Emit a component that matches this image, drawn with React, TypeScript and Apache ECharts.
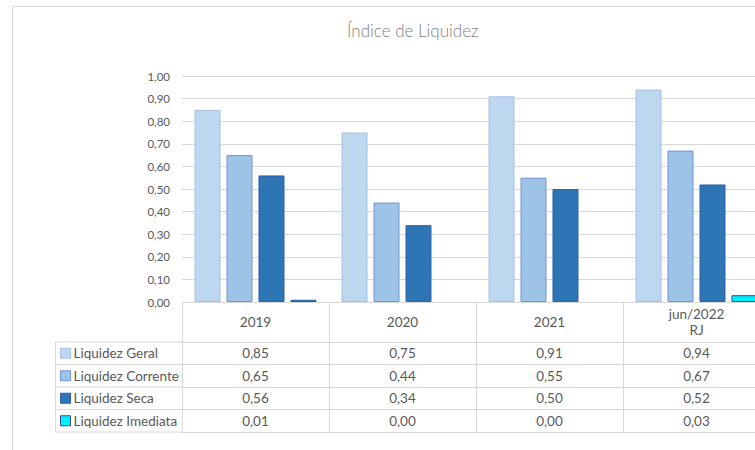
import React, { useEffect, useRef } from "react";
import * as echarts from "echarts";

const categories = ["2019", "2020", "2021", "jun/2022\nRJ"];
const seriesNames = ["Liquidez Geral", "Liquidez Corrente", "Liquidez Seca", "Liquidez Imediata"];
const liquidezGeral = [0.85, 0.75, 0.91, 0.94];
const liquidezCorrente = [0.65, 0.44, 0.55, 0.67];
const liquidezSeca = [0.56, 0.34, 0.5, 0.52];
const liquidezImediata = [0.01, 0.0, 0.0, 0.03];
const yTicks = [0, 1, 0.1];

const seriesValues = [liquidezGeral, liquidezCorrente, liquidezSeca, liquidezImediata];
const fills = ["#BDD7EE", "#9DC3E6", "#2E75B6", "#00F0FF"];
const borders = ["#A9BEE6", "#7393D6", "#2F5FA8", "#2F4F9A"];

const fmt = (v: number) => v.toFixed(2).replace(".", ",");

export default function App() {
  const ref = useRef<HTMLDivElement>(null);
  useEffect(() => {
    if (!ref.current) return;
    const chart = echarts.init(ref.current, null, { renderer: "svg" });
    const font = "Lato, 'Open Sans', sans-serif";
    const gridTop = 76;
    const gridBottomY = 302;
    const rowTop0 = 342;
    const rowH = 22.5;
    const lineColor = "#D9D9D9";
    const textColor = "#595959";
    const tableFont = 13.5;

    const valueAxes = seriesValues.map((vals, i) => ({
      type: "category",
      gridIndex: 0,
      position: "bottom",
      offset: rowTop0 + rowH * i - gridBottomY,
      data: categories,
      axisLine: { show: true, lineStyle: { color: lineColor, width: 1 } },
      axisTick: { show: false },
      axisLabel: {
        show: true,
        interval: 0,
        margin: rowH / 2,
        verticalAlign: "middle",
        color: textColor,
        fontSize: tableFont,
        fontFamily: font,
        formatter: (_v: string, idx: number) => fmt(vals[idx]),
      },
      splitLine: { show: false },
    }));

    const closingAxis = {
      type: "category",
      gridIndex: 0,
      position: "bottom",
      offset: rowTop0 + rowH * 4 - gridBottomY,
      data: categories,
      axisLine: { show: true, lineStyle: { color: lineColor, width: 1 } },
      axisTick: { show: false },
      axisLabel: { show: false },
      splitLine: { show: false },
    };

    const legendLines: any[] = [];
    for (let i = 0; i <= 4; i++) {
      legendLines.push({
        type: "line",
        shape: { x1: 55, y1: rowTop0 + rowH * i, x2: 182, y2: rowTop0 + rowH * i },
        style: { stroke: lineColor, lineWidth: 1 },
        silent: true,
      });
    }
    legendLines.push({
      type: "line",
      shape: { x1: 55.5, y1: rowTop0, x2: 55.5, y2: rowTop0 + rowH * 4 },
      style: { stroke: lineColor, lineWidth: 1 },
      silent: true,
    });

    chart.setOption({
      animation: false,
      backgroundColor: "#FFFFFF",
      title: {
        text: "Índice de Liquidez",
        left: 342,
        top: 17,
        textStyle: { color: "#7F7F7F", fontSize: 17, fontWeight: 300, fontFamily: font },
      },
      grid: { left: 182, top: gridTop, width: 588, height: gridBottomY - gridTop, containLabel: false },
      legend: {
        orient: "vertical",
        left: 60,
        top: rowTop0,
        padding: 0,
        itemGap: 0,
        itemWidth: 10,
        itemHeight: 10,
        itemStyle: { borderWidth: 1 },
        textStyle: { color: textColor, fontSize: tableFont, fontFamily: font, lineHeight: rowH, height: rowH, padding: [0, 0, 0, -2] },
        data: seriesNames.map((n) => ({ name: n, icon: "rect" })),
      },
      xAxis: [
        {
          type: "category",
          gridIndex: 0,
          position: "bottom",
          data: categories,
          axisLine: { show: true, lineStyle: { color: lineColor, width: 1 } },
          axisTick: { show: true, length: rowTop0 + rowH * 4 - gridBottomY, lineStyle: { color: lineColor, width: 1 } },
          axisLabel: {
            interval: 0,
            margin: 20,
            verticalAlign: "middle",
            lineHeight: 16,
            color: textColor,
            fontSize: tableFont,
            fontFamily: font,
          },
        },
        ...valueAxes,
        closingAxis,
      ],
      yAxis: {
        type: "value",
        min: yTicks[0],
        max: yTicks[1],
        interval: yTicks[2],
        axisLine: { show: false },
        axisTick: { show: false },
        splitLine: { lineStyle: { color: lineColor, width: 1 } },
        axisLabel: {
          margin: 12,
          color: textColor,
          fontSize: 11.5,
          fontFamily: font,
          formatter: (v: number) => fmt(v),
        },
      },
      series: seriesValues.map((vals, i) => ({
        name: seriesNames[i],
        type: "bar",
        xAxisIndex: 0,
        data: vals.map((v) => (v === 0 ? { value: v, itemStyle: { borderWidth: 0 } } : v)),
        barWidth: 26,
        barGap: "23%",
        itemStyle: { color: fills[i], borderColor: borders[i], borderWidth: 1 },
      })),
      graphic: [
        {
          type: "rect",
          shape: { x: 12.5, y: 6.5, width: 900, height: 600 },
          style: { fill: "none", stroke: lineColor, lineWidth: 1 },
          silent: true,
          z: -1,
        },
        ...legendLines,
      ],
    });
    return () => chart.dispose();
  }, []);
  return (
    <div style={{ position: "fixed", left: 0, top: 0, width: 755, height: 450, overflow: "hidden" }}>
      <div ref={ref} style={{ width: 775, height: 450 }} />
    </div>
  );
}
